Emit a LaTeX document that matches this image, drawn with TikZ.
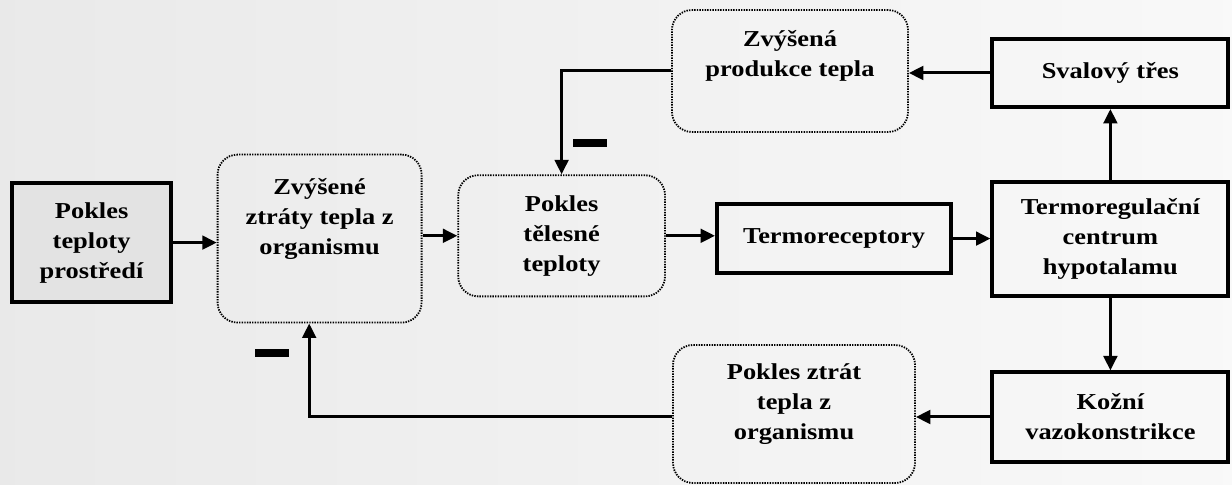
\documentclass[tikz,border=0pt]{standalone}
\usepackage{fontspec}
\setmainfont{Liberation Serif}[FakeStretch=1.16]
\usetikzlibrary{arrows.meta}

\begin{document}
\begin{tikzpicture}[>={Triangle[length=0.36cm,width=0.34cm]},
    every node/.style={font=\fontsize{16.2}{21.3}\selectfont\bfseries,align=center,inner sep=0pt},
    solidbox/.style={draw,line width=0.1cm},
    dotbox/.style={draw,line width=0.045cm,dash pattern=on 0.035cm off 0.03cm,rounded corners=0.5cm},
    arr/.style={->,line width=0.075cm},
    minus/.style={fill,minimum width=0.85cm,minimum height=0.2cm}]
      \useasboundingbox (0,0) rectangle (30.8,12.125);
      \fill[left color=gray!17,right color=gray!5] (0,0) rectangle (30.8,12.125);
      \node[solidbox,fill=gray!22,minimum width=3.98cm,minimum height=2.98cm] (prostredi) at (2.29,6.06) {Pokles\\teploty\\prostředí};
      \node[dotbox,minimum width=5.1cm,minimum height=4.2cm,
        label={[yshift=0.5cm]center:Zvýšené\\ztráty tepla z\\organismu}] (ztraty) at (7.99,6.16) {};
      \node[dotbox,minimum width=5.17cm,minimum height=3.03cm] (tel) at (14.04,6.23) {Pokles\\tělesné\\teploty};
      \node[solidbox,minimum width=5.85cm,minimum height=1.73cm] (receptory) at (20.85,6.16) {Termoreceptory};
      \node[solidbox,minimum width=5.9cm,minimum height=2.85cm] (centrum) at (27.76,6.15) {Termoregulační\\centrum\\hypotalamu};
      \node[solidbox,minimum width=5.9cm,minimum height=1.7cm] (tres) at (27.76,10.3) {Svalový třes};
      \node[solidbox,minimum width=5.9cm,minimum height=2.23cm] (kozni) at (27.76,1.7) {Kožní\\vazokonstrikce};
      \node[dotbox,minimum width=5.9cm,minimum height=3.05cm,
        label={[yshift=0.38cm]center:Zvýšená\\produkce tepla}] (produkce) at (19.75,10.35) {};
      \node[dotbox,minimum width=6.05cm,minimum height=3.45cm,
        label={[yshift=0.25cm]center:Pokles ztrát\\tepla z\\organismu}] (ztratypokles) at (19.85,1.775) {};
      \node[minus] (minus1) at (14.75,8.54) {};
      \node[minus] (minus2) at (6.8,3.31) {};
      \draw[arr] (prostredi) -- (prostredi -| ztraty.west);
      \draw[arr] (ztraty.east |- tel) -- (tel);
      \draw[arr] (tel) -- (tel -| receptory.west);
      \draw[arr] (receptory) -- (receptory -| centrum.west);
      \draw[arr] (centrum) -- (tres);
      \draw[arr] (centrum) -- (kozni);
      \draw[arr] (tres) -- (tres -| produkce.east);
      \draw[arr] (kozni) -- (kozni -| ztratypokles.east);
      \draw[arr] (produkce.west) -| (tel.north);
      \draw[arr] (ztratypokles.west |- kozni) -| ([xshift=-0.26cm]ztraty.south);
    \end{tikzpicture}
\end{document}
